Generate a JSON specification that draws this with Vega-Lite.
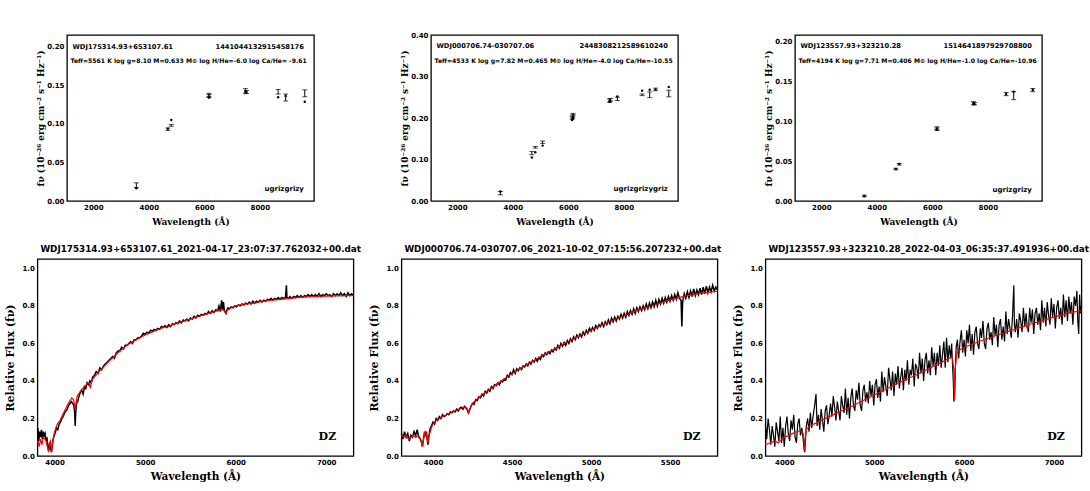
{
  "$schema": "https://vega.github.io/schema/vega-lite/v6.json",
  "background": "white",
  "padding": {"left": 4, "top": 31, "right": 0, "bottom": 0},
  "config": {
    "view": {"stroke": "black", "strokeWidth": 1.3},
    "font": "DejaVu Sans",
    "axis": {
      "domain": false, "grid": false, "ticks": true, "tickSize": 0, "tickColor": "black", "tickWidth": 1,
      "labelFont": "DejaVu Sans", "labelFontWeight": "bold", "labelFontSize": 7, "labelColor": "black",
      "labelPadding": 3, "labelOverlap": false, "labelFlush": false, "labelBound": false,
      "titleFont": "DejaVu Serif", "titleFontWeight": "bold", "titleColor": "black"
    },
    "title": {"font": "DejaVu Sans", "fontWeight": "bold", "fontSize": 8.8, "color": "black", "anchor": "start", "frame": "group", "offset": 5, "dx": 3}
  },
  "datasets": {
    "sed1": [
      {"band": "u", "w": 3551, "obs": 0.0205, "err": 0.003, "mod": 0.0165},
      {"band": "g", "w": 4686, "obs": 0.093, "err": 0.0015, "mod": 0.0935},
      {"band": "g", "w": 4810, "obs": 0.098, "err": 0.0012, "mod": 0.105},
      {"band": "r", "w": 6166, "obs": 0.1375, "err": 0.002, "mod": 0.134},
      {"band": "r", "w": 6170, "obs": 0.136, "err": 0.002, "mod": 0.1345},
      {"band": "i", "w": 7480, "obs": 0.1425, "err": 0.003, "mod": 0.1415},
      {"band": "i", "w": 7520, "obs": 0.141, "err": 0.002, "mod": 0.1415},
      {"band": "z", "w": 8660, "obs": 0.1415, "err": 0.003, "mod": 0.1345},
      {"band": "z", "w": 8932, "obs": 0.134, "err": 0.0045, "mod": 0.136},
      {"band": "y", "w": 9620, "obs": 0.1395, "err": 0.0045, "mod": 0.1285}
    ],
    "sed2": [
      {"band": "u", "w": 3551, "obs": 0.019, "err": 0.004, "mod": 0.023},
      {"band": "g", "w": 4686, "obs": 0.116, "err": 0.004, "mod": 0.105},
      {"band": "g", "w": 4810, "obs": 0.13, "err": 0.002, "mod": 0.118},
      {"band": "g", "w": 5075, "obs": 0.142, "err": 0.003, "mod": 0.134},
      {"band": "r", "w": 6138, "obs": 0.201, "err": 0.003, "mod": 0.196},
      {"band": "r", "w": 6166, "obs": 0.205, "err": 0.004, "mod": 0.199},
      {"band": "r", "w": 6170, "obs": 0.209, "err": 0.003, "mod": 0.203},
      {"band": "i", "w": 7480, "obs": 0.243, "err": 0.004, "mod": 0.24},
      {"band": "i", "w": 7520, "obs": 0.245, "err": 0.003, "mod": 0.241},
      {"band": "i", "w": 7767, "obs": 0.247, "err": 0.004, "mod": 0.253},
      {"band": "z", "w": 8660, "obs": 0.257, "err": 0.002, "mod": 0.267},
      {"band": "z", "w": 8932, "obs": 0.257, "err": 0.007, "mod": 0.269},
      {"band": "z", "w": 9145, "obs": 0.27, "err": 0.003, "mod": 0.27},
      {"band": "y", "w": 9620, "obs": 0.26, "err": 0.008, "mod": 0.276}
    ],
    "sed3": [
      {"band": "u", "w": 3551, "obs": 0.0065, "err": 0.001, "mod": 0.006},
      {"band": "g", "w": 4686, "obs": 0.04, "err": 0.001, "mod": 0.04},
      {"band": "g", "w": 4810, "obs": 0.046, "err": 0.001, "mod": 0.0465},
      {"band": "r", "w": 6166, "obs": 0.091, "err": 0.002, "mod": 0.09},
      {"band": "r", "w": 6170, "obs": 0.09, "err": 0.0015, "mod": 0.0905},
      {"band": "i", "w": 7480, "obs": 0.1225, "err": 0.002, "mod": 0.122},
      {"band": "i", "w": 7520, "obs": 0.122, "err": 0.0015, "mod": 0.1215},
      {"band": "z", "w": 8660, "obs": 0.134, "err": 0.002, "mod": 0.134},
      {"band": "z", "w": 8932, "obs": 0.132, "err": 0.005, "mod": 0.137},
      {"band": "y", "w": 9620, "obs": 0.139, "err": 0.002, "mod": 0.139}
    ],
    "spec1": [
      {"w":3815,"f":0.15},{"w":3825,"f":0.08},{"w":3835,"f":0.13},{"w":3845,"f":0.1},{"w":3855,"f":0.14},{"w":3865,"f":0.09},{"w":3875,"f":0.13},{"w":3885,"f":0.11},{"w":3895,"f":0.12},{"w":3905,"f":0.08},{"w":3915,"f":0.1},{"w":3925,"f":0.05},{"w":3935,"f":0.03},{"w":3945,"f":0.07},{"w":3955,"f":0.04},{"w":3965,"f":0.02},{"w":3975,"f":0.06},{"w":3985,"f":0.09},{"w":3995,"f":0.11},{"w":4005,"f":0.12},
      {"w":4020,"f":0.15},{"w":4035,"f":0.14},{"w":4050,"f":0.17},{"w":4065,"f":0.18},{"w":4080,"f":0.2},{"w":4095,"f":0.21},{"w":4110,"f":0.23},{"w":4125,"f":0.24},{"w":4140,"f":0.25},{"w":4155,"f":0.27},{"w":4170,"f":0.28},{"w":4185,"f":0.29},{"w":4200,"f":0.28},{"w":4212,"f":0.27},{"w":4222,"f":0.23},{"w":4227,"f":0.16},{"w":4232,"f":0.22},{"w":4242,"f":0.28},{"w":4255,"f":0.29},{"w":4270,"f":0.32},
      {"w":4285,"f":0.34},{"w":4300,"f":0.35},{"w":4315,"f":0.33},{"w":4330,"f":0.37},{"w":4345,"f":0.36},{"w":4360,"f":0.39},{"w":4375,"f":0.38},{"w":4390,"f":0.4},{"w":4405,"f":0.39},{"w":4420,"f":0.42},{"w":4440,"f":0.43},{"w":4460,"f":0.45},{"w":4480,"f":0.44},{"w":4500,"f":0.47},{"w":4520,"f":0.46},{"w":4540,"f":0.48},{"w":4560,"f":0.49},{"w":4580,"f":0.5},{"w":4600,"f":0.51},{"w":4620,"f":0.52},
      {"w":4640,"f":0.53},{"w":4660,"f":0.52},{"w":4680,"f":0.55},{"w":4700,"f":0.56},{"w":4720,"f":0.56},{"w":4740,"f":0.58},{"w":4760,"f":0.57},{"w":4780,"f":0.59},{"w":4800,"f":0.59},{"w":4820,"f":0.6},{"w":4840,"f":0.61},{"w":4860,"f":0.6},{"w":4880,"f":0.62},{"w":4900,"f":0.62},{"w":4920,"f":0.63},{"w":4940,"f":0.63},{"w":4960,"f":0.64},{"w":4980,"f":0.655},{"w":5000,"f":0.65},{"w":5020,"f":0.66},
      {"w":5040,"f":0.655},{"w":5060,"f":0.67},{"w":5080,"f":0.665},{"w":5100,"f":0.675},{"w":5120,"f":0.67},{"w":5140,"f":0.68},{"w":5160,"f":0.675},{"w":5180,"f":0.69},{"w":5200,"f":0.685},{"w":5220,"f":0.695},{"w":5240,"f":0.685},{"w":5260,"f":0.7},{"w":5280,"f":0.69},{"w":5300,"f":0.705},{"w":5320,"f":0.7},{"w":5340,"f":0.71},{"w":5360,"f":0.705},{"w":5380,"f":0.72},{"w":5400,"f":0.71},{"w":5420,"f":0.725},
      {"w":5440,"f":0.72},{"w":5460,"f":0.73},{"w":5480,"f":0.72},{"w":5500,"f":0.735},{"w":5520,"f":0.73},{"w":5540,"f":0.745},{"w":5560,"f":0.735},{"w":5580,"f":0.75},{"w":5600,"f":0.745},{"w":5620,"f":0.755},{"w":5640,"f":0.75},{"w":5660,"f":0.76},{"w":5680,"f":0.755},{"w":5700,"f":0.77},{"w":5720,"f":0.76},{"w":5740,"f":0.775},{"w":5760,"f":0.765},{"w":5780,"f":0.78},{"w":5800,"f":0.775},{"w":5815,"f":0.8},
      {"w":5830,"f":0.77},{"w":5845,"f":0.83},{"w":5855,"f":0.78},{"w":5865,"f":0.82},{"w":5875,"f":0.775},{"w":5885,"f":0.765},{"w":5893,"f":0.76},{"w":5900,"f":0.775},{"w":5915,"f":0.79},{"w":5930,"f":0.785},{"w":5950,"f":0.795},{"w":5970,"f":0.79},{"w":5990,"f":0.8},{"w":6010,"f":0.795},{"w":6030,"f":0.805},{"w":6050,"f":0.8},{"w":6070,"f":0.81},{"w":6090,"f":0.805},{"w":6110,"f":0.815},{"w":6130,"f":0.81},
      {"w":6150,"f":0.82},{"w":6170,"f":0.81},{"w":6190,"f":0.825},{"w":6210,"f":0.815},{"w":6230,"f":0.825},{"w":6250,"f":0.82},{"w":6270,"f":0.83},{"w":6290,"f":0.82},{"w":6310,"f":0.83},{"w":6330,"f":0.825},{"w":6350,"f":0.835},{"w":6370,"f":0.83},{"w":6390,"f":0.84},{"w":6410,"f":0.83},{"w":6430,"f":0.84},{"w":6450,"f":0.835},{"w":6470,"f":0.845},{"w":6490,"f":0.835},{"w":6510,"f":0.845},{"w":6530,"f":0.84},
      {"w":6550,"f":0.845},{"w":6560,"f":0.91},{"w":6566,"f":0.845},{"w":6580,"f":0.84},{"w":6600,"f":0.85},{"w":6620,"f":0.84},{"w":6640,"f":0.85},{"w":6660,"f":0.845},{"w":6680,"f":0.855},{"w":6700,"f":0.845},{"w":6720,"f":0.855},{"w":6740,"f":0.845},{"w":6760,"f":0.855},{"w":6780,"f":0.85},{"w":6800,"f":0.86},{"w":6820,"f":0.85},{"w":6840,"f":0.86},{"w":6860,"f":0.85},{"w":6880,"f":0.86},{"w":6900,"f":0.85},
      {"w":6920,"f":0.865},{"w":6940,"f":0.85},{"w":6960,"f":0.86},{"w":6980,"f":0.855},{"w":7000,"f":0.865},{"w":7020,"f":0.855},{"w":7040,"f":0.86},{"w":7060,"f":0.85},{"w":7080,"f":0.865},{"w":7100,"f":0.855},{"w":7120,"f":0.865},{"w":7140,"f":0.855},{"w":7160,"f":0.87},{"w":7180,"f":0.855},{"w":7200,"f":0.865},{"w":7220,"f":0.85},{"w":7240,"f":0.87},{"w":7260,"f":0.855},{"w":7280,"f":0.865},{"w":7300,"f":0.855}
    ],
    "fit1": [
      {"w":3815,"f":0.08},{"w":3830,"f":0.05},{"w":3845,"f":0.09},{"w":3860,"f":0.06},{"w":3875,"f":0.1},{"w":3890,"f":0.09},{"w":3905,"f":0.08},{"w":3920,"f":0.05},{"w":3933,"f":0.02},{"w":3945,"f":0.07},{"w":3955,"f":0.08},{"w":3968,"f":0.02},{"w":3980,"f":0.08},{"w":4000,"f":0.13},{"w":4030,"f":0.17},{"w":4060,"f":0.19},{"w":4100,"f":0.23},{"w":4150,"f":0.28},{"w":4190,"f":0.31},{"w":4210,"f":0.3},
      {"w":4222,"f":0.27},{"w":4227,"f":0.24},{"w":4233,"f":0.27},{"w":4250,"f":0.32},{"w":4300,"f":0.355},{"w":4350,"f":0.38},{"w":4380,"f":0.39},{"w":4395,"f":0.36},{"w":4405,"f":0.39},{"w":4420,"f":0.41},{"w":4500,"f":0.455},{"w":4600,"f":0.505},{"w":4700,"f":0.55},{"w":4800,"f":0.59},{"w":4900,"f":0.62},{"w":5000,"f":0.645},{"w":5100,"f":0.665},{"w":5200,"f":0.685},{"w":5270,"f":0.69},{"w":5300,"f":0.7},
      {"w":5400,"f":0.715},{"w":5500,"f":0.73},{"w":5600,"f":0.745},{"w":5700,"f":0.76},{"w":5800,"f":0.775},{"w":5860,"f":0.78},{"w":5880,"f":0.77},{"w":5893,"f":0.76},{"w":5905,"f":0.775},{"w":5950,"f":0.79},{"w":6000,"f":0.8},{"w":6100,"f":0.81},{"w":6200,"f":0.815},{"w":6300,"f":0.825},{"w":6400,"f":0.83},{"w":6500,"f":0.835},{"w":6600,"f":0.84},{"w":6700,"f":0.845},{"w":6800,"f":0.848},{"w":6900,"f":0.85},
      {"w":7000,"f":0.852},{"w":7100,"f":0.853},{"w":7200,"f":0.854},{"w":7300,"f":0.855}
    ],
    "spec2": [
      {"w":3800,"f":0.12},{"w":3810,"f":0.09},{"w":3820,"f":0.13},{"w":3830,"f":0.1},{"w":3840,"f":0.12},{"w":3850,"f":0.08},{"w":3860,"f":0.11},{"w":3870,"f":0.1},{"w":3880,"f":0.13},{"w":3890,"f":0.11},{"w":3900,"f":0.14},{"w":3910,"f":0.1},{"w":3920,"f":0.09},{"w":3928,"f":0.07},{"w":3933,"f":0.05},{"w":3938,"f":0.08},{"w":3945,"f":0.12},{"w":3952,"f":0.11},{"w":3958,"f":0.13},{"w":3963,"f":0.09},
      {"w":3968,"f":0.06},{"w":3973,"f":0.1},{"w":3980,"f":0.14},{"w":3990,"f":0.16},{"w":4000,"f":0.18},{"w":4010,"f":0.17},{"w":4020,"f":0.2},{"w":4030,"f":0.19},{"w":4040,"f":0.21},{"w":4050,"f":0.2},{"w":4060,"f":0.22},{"w":4070,"f":0.21},{"w":4080,"f":0.215},{"w":4090,"f":0.225},{"w":4100,"f":0.22},{"w":4110,"f":0.235},{"w":4120,"f":0.23},{"w":4130,"f":0.24},{"w":4140,"f":0.235},{"w":4150,"f":0.25},
      {"w":4160,"f":0.24},{"w":4170,"f":0.255},{"w":4180,"f":0.26},{"w":4190,"f":0.25},{"w":4200,"f":0.265},{"w":4210,"f":0.255},{"w":4218,"f":0.245},{"w":4224,"f":0.23},{"w":4230,"f":0.24},{"w":4240,"f":0.265},{"w":4250,"f":0.28},{"w":4260,"f":0.275},{"w":4270,"f":0.3},{"w":4280,"f":0.295},{"w":4290,"f":0.315},{"w":4300,"f":0.31},{"w":4310,"f":0.33},{"w":4320,"f":0.32},{"w":4330,"f":0.345},{"w":4340,"f":0.335},
      {"w":4350,"f":0.355},{"w":4360,"f":0.345},{"w":4370,"f":0.37},{"w":4380,"f":0.36},{"w":4390,"f":0.38},{"w":4400,"f":0.375},{"w":4410,"f":0.39},{"w":4420,"f":0.38},{"w":4430,"f":0.4},{"w":4440,"f":0.395},{"w":4450,"f":0.41},{"w":4460,"f":0.405},{"w":4470,"f":0.43},{"w":4480,"f":0.42},{"w":4490,"f":0.445},{"w":4500,"f":0.435},{"w":4510,"f":0.46},{"w":4520,"f":0.44},{"w":4530,"f":0.465},{"w":4540,"f":0.455},
      {"w":4550,"f":0.47},{"w":4560,"f":0.46},{"w":4570,"f":0.48},{"w":4580,"f":0.475},{"w":4590,"f":0.49},{"w":4600,"f":0.48},{"w":4610,"f":0.5},{"w":4620,"f":0.49},{"w":4630,"f":0.51},{"w":4640,"f":0.5},{"w":4650,"f":0.52},{"w":4660,"f":0.505},{"w":4670,"f":0.525},{"w":4680,"f":0.515},{"w":4690,"f":0.54},{"w":4700,"f":0.53},{"w":4710,"f":0.55},{"w":4720,"f":0.54},{"w":4730,"f":0.555},{"w":4740,"f":0.545},
      {"w":4750,"f":0.565},{"w":4760,"f":0.555},{"w":4770,"f":0.575},{"w":4780,"f":0.565},{"w":4790,"f":0.59},{"w":4800,"f":0.575},{"w":4810,"f":0.6},{"w":4820,"f":0.585},{"w":4830,"f":0.605},{"w":4840,"f":0.59},{"w":4850,"f":0.615},{"w":4860,"f":0.6},{"w":4870,"f":0.625},{"w":4880,"f":0.61},{"w":4890,"f":0.635},{"w":4900,"f":0.62},{"w":4910,"f":0.645},{"w":4920,"f":0.63},{"w":4930,"f":0.65},{"w":4940,"f":0.635},
      {"w":4950,"f":0.66},{"w":4960,"f":0.645},{"w":4970,"f":0.67},{"w":4980,"f":0.655},{"w":4990,"f":0.68},{"w":5000,"f":0.665},{"w":5010,"f":0.685},{"w":5020,"f":0.67},{"w":5030,"f":0.695},{"w":5040,"f":0.68},{"w":5050,"f":0.7},{"w":5060,"f":0.69},{"w":5070,"f":0.71},{"w":5080,"f":0.69},{"w":5090,"f":0.715},{"w":5100,"f":0.7},{"w":5110,"f":0.725},{"w":5120,"f":0.705},{"w":5130,"f":0.735},{"w":5140,"f":0.715},
      {"w":5150,"f":0.74},{"w":5160,"f":0.72},{"w":5170,"f":0.745},{"w":5180,"f":0.73},{"w":5190,"f":0.755},{"w":5200,"f":0.735},{"w":5210,"f":0.76},{"w":5220,"f":0.74},{"w":5230,"f":0.77},{"w":5240,"f":0.75},{"w":5250,"f":0.775},{"w":5260,"f":0.755},{"w":5270,"f":0.785},{"w":5280,"f":0.76},{"w":5290,"f":0.79},{"w":5300,"f":0.77},{"w":5310,"f":0.795},{"w":5320,"f":0.775},{"w":5330,"f":0.8},{"w":5340,"f":0.78},
      {"w":5350,"f":0.81},{"w":5360,"f":0.785},{"w":5370,"f":0.815},{"w":5380,"f":0.79},{"w":5390,"f":0.82},{"w":5400,"f":0.795},{"w":5410,"f":0.83},{"w":5420,"f":0.8},{"w":5430,"f":0.835},{"w":5440,"f":0.81},{"w":5450,"f":0.84},{"w":5460,"f":0.815},{"w":5470,"f":0.845},{"w":5480,"f":0.82},{"w":5490,"f":0.85},{"w":5500,"f":0.825},{"w":5510,"f":0.855},{"w":5520,"f":0.83},{"w":5530,"f":0.86},{"w":5540,"f":0.835},
      {"w":5550,"f":0.87},{"w":5560,"f":0.84},{"w":5570,"f":0.83},{"w":5575,"f":0.69},{"w":5580,"f":0.82},{"w":5590,"f":0.865},{"w":5600,"f":0.84},{"w":5610,"f":0.875},{"w":5620,"f":0.845},{"w":5630,"f":0.88},{"w":5640,"f":0.85},{"w":5650,"f":0.89},{"w":5660,"f":0.855},{"w":5670,"f":0.885},{"w":5680,"f":0.86},{"w":5690,"f":0.895},{"w":5700,"f":0.86},{"w":5710,"f":0.9},{"w":5720,"f":0.865},{"w":5730,"f":0.905},
      {"w":5740,"f":0.87},{"w":5750,"f":0.9},{"w":5760,"f":0.875},{"w":5770,"f":0.91},{"w":5780,"f":0.88},{"w":5790,"f":0.9},{"w":5800,"f":0.885}
    ],
    "fit2": [
      {"w":3800,"f":0.11},{"w":3815,"f":0.1},{"w":3830,"f":0.11},{"w":3845,"f":0.09},{"w":3860,"f":0.1},{"w":3875,"f":0.11},{"w":3890,"f":0.1},{"w":3905,"f":0.11},{"w":3915,"f":0.1},{"w":3925,"f":0.08},{"w":3933,"f":0.05},{"w":3940,"f":0.09},{"w":3950,"f":0.13},{"w":3958,"f":0.12},{"w":3963,"f":0.09},{"w":3968,"f":0.07},{"w":3975,"f":0.11},{"w":3990,"f":0.15},{"w":4000,"f":0.17},{"w":4020,"f":0.19},
      {"w":4050,"f":0.205},{"w":4100,"f":0.225},{"w":4150,"f":0.245},{"w":4200,"f":0.262},{"w":4212,"f":0.258},{"w":4220,"f":0.245},{"w":4226,"f":0.23},{"w":4232,"f":0.25},{"w":4250,"f":0.28},{"w":4275,"f":0.3},{"w":4300,"f":0.32},{"w":4350,"f":0.35},{"w":4400,"f":0.38},{"w":4450,"f":0.41},{"w":4500,"f":0.44},{"w":4600,"f":0.49},{"w":4700,"f":0.54},{"w":4800,"f":0.585},{"w":4900,"f":0.63},{"w":5000,"f":0.67},
      {"w":5100,"f":0.71},{"w":5200,"f":0.745},{"w":5300,"f":0.78},{"w":5400,"f":0.805},{"w":5500,"f":0.832},{"w":5600,"f":0.853},{"w":5700,"f":0.868},{"w":5800,"f":0.878}
    ],
    "spec3": [
      {"w":3790,"f":0.17},{"w":3805,"f":0.09},{"w":3820,"f":0.2},{"w":3835,"f":0.14},{"w":3850,"f":0.06},{"w":3865,"f":0.16},{"w":3880,"f":0.11},{"w":3895,"f":0.05},{"w":3910,"f":0.18},{"w":3925,"f":0.13},{"w":3940,"f":0.08},{"w":3955,"f":0.21},{"w":3970,"f":0.07},{"w":3985,"f":0.15},{"w":4000,"f":0.05},{"w":4015,"f":0.16},{"w":4030,"f":0.21},{"w":4045,"f":0.12},{"w":4060,"f":0.08},{"w":4075,"f":0.19},
      {"w":4090,"f":0.14},{"w":4105,"f":0.22},{"w":4120,"f":0.1},{"w":4135,"f":0.07},{"w":4150,"f":0.17},{"w":4165,"f":0.2},{"w":4180,"f":0.11},{"w":4195,"f":0.15},{"w":4208,"f":0.1},{"w":4216,"f":0.06},{"w":4222,"f":0.03},{"w":4228,"f":0.02},{"w":4234,"f":0.07},{"w":4245,"f":0.16},{"w":4260,"f":0.2},{"w":4275,"f":0.13},{"w":4290,"f":0.23},{"w":4305,"f":0.15},{"w":4320,"f":0.21},{"w":4335,"f":0.26},
      {"w":4353,"f":0.33},{"w":4365,"f":0.16},{"w":4380,"f":0.22},{"w":4395,"f":0.14},{"w":4410,"f":0.25},{"w":4425,"f":0.19},{"w":4440,"f":0.13},{"w":4455,"f":0.24},{"w":4470,"f":0.27},{"w":4485,"f":0.17},{"w":4500,"f":0.22},{"w":4515,"f":0.28},{"w":4530,"f":0.21},{"w":4545,"f":0.32},{"w":4560,"f":0.26},{"w":4575,"f":0.19},{"w":4590,"f":0.29},{"w":4605,"f":0.24},{"w":4620,"f":0.19},{"w":4635,"f":0.32},
      {"w":4650,"f":0.27},{"w":4665,"f":0.23},{"w":4680,"f":0.36},{"w":4695,"f":0.22},{"w":4710,"f":0.31},{"w":4725,"f":0.2},{"w":4740,"f":0.31},{"w":4755,"f":0.36},{"w":4770,"f":0.27},{"w":4785,"f":0.24},{"w":4800,"f":0.35},{"w":4815,"f":0.3},{"w":4830,"f":0.39},{"w":4845,"f":0.27},{"w":4860,"f":0.24},{"w":4875,"f":0.35},{"w":4890,"f":0.38},{"w":4905,"f":0.29},{"w":4920,"f":0.34},{"w":4935,"f":0.28},
      {"w":4950,"f":0.4},{"w":4965,"f":0.32},{"w":4980,"f":0.38},{"w":4995,"f":0.27},{"w":5010,"f":0.38},{"w":5025,"f":0.41},{"w":5040,"f":0.31},{"w":5055,"f":0.37},{"w":5070,"f":0.29},{"w":5085,"f":0.45},{"w":5100,"f":0.34},{"w":5115,"f":0.42},{"w":5130,"f":0.37},{"w":5145,"f":0.32},{"w":5160,"f":0.47},{"w":5175,"f":0.41},{"w":5190,"f":0.35},{"w":5205,"f":0.45},{"w":5220,"f":0.32},{"w":5235,"f":0.44},
      {"w":5250,"f":0.38},{"w":5265,"f":0.48},{"w":5280,"f":0.36},{"w":5295,"f":0.42},{"w":5310,"f":0.47},{"w":5325,"f":0.35},{"w":5340,"f":0.46},{"w":5355,"f":0.4},{"w":5370,"f":0.51},{"w":5385,"f":0.38},{"w":5400,"f":0.46},{"w":5415,"f":0.43},{"w":5430,"f":0.52},{"w":5445,"f":0.37},{"w":5460,"f":0.49},{"w":5475,"f":0.47},{"w":5490,"f":0.41},{"w":5505,"f":0.55},{"w":5520,"f":0.44},{"w":5535,"f":0.52},
      {"w":5550,"f":0.4},{"w":5565,"f":0.51},{"w":5580,"f":0.55},{"w":5595,"f":0.44},{"w":5610,"f":0.51},{"w":5625,"f":0.43},{"w":5640,"f":0.58},{"w":5655,"f":0.48},{"w":5670,"f":0.55},{"w":5685,"f":0.43},{"w":5700,"f":0.55},{"w":5715,"f":0.48},{"w":5730,"f":0.59},{"w":5745,"f":0.47},{"w":5760,"f":0.54},{"w":5775,"f":0.61},{"w":5790,"f":0.47},{"w":5805,"f":0.63},{"w":5820,"f":0.5},{"w":5835,"f":0.59},
      {"w":5850,"f":0.52},{"w":5862,"f":0.6},{"w":5872,"f":0.48},{"w":5880,"f":0.4},{"w":5887,"f":0.29},{"w":5894,"f":0.31},{"w":5902,"f":0.45},{"w":5912,"f":0.58},{"w":5925,"f":0.62},{"w":5940,"f":0.52},{"w":5955,"f":0.61},{"w":5970,"f":0.67},{"w":5985,"f":0.55},{"w":6000,"f":0.62},{"w":6015,"f":0.53},{"w":6030,"f":0.67},{"w":6045,"f":0.6},{"w":6060,"f":0.7},{"w":6075,"f":0.56},{"w":6090,"f":0.65},
      {"w":6105,"f":0.54},{"w":6120,"f":0.66},{"w":6135,"f":0.69},{"w":6150,"f":0.6},{"w":6165,"f":0.57},{"w":6180,"f":0.68},{"w":6195,"f":0.63},{"w":6210,"f":0.72},{"w":6225,"f":0.6},{"w":6240,"f":0.57},{"w":6255,"f":0.68},{"w":6270,"f":0.71},{"w":6285,"f":0.62},{"w":6300,"f":0.66},{"w":6315,"f":0.59},{"w":6330,"f":0.74},{"w":6345,"f":0.64},{"w":6360,"f":0.7},{"w":6375,"f":0.58},{"w":6390,"f":0.7},
      {"w":6405,"f":0.73},{"w":6420,"f":0.62},{"w":6435,"f":0.69},{"w":6450,"f":0.61},{"w":6465,"f":0.77},{"w":6480,"f":0.65},{"w":6495,"f":0.73},{"w":6510,"f":0.68},{"w":6525,"f":0.63},{"w":6540,"f":0.76},{"w":6553,"f":0.91},{"w":6560,"f":0.7},{"w":6570,"f":0.66},{"w":6585,"f":0.73},{"w":6600,"f":0.63},{"w":6615,"f":0.76},{"w":6630,"f":0.72},{"w":6645,"f":0.66},{"w":6660,"f":0.79},{"w":6675,"f":0.69},
      {"w":6690,"f":0.76},{"w":6700,"f":0.7},{"w":6715,"f":0.66},{"w":6730,"f":0.79},{"w":6745,"f":0.71},{"w":6760,"f":0.78},{"w":6775,"f":0.65},{"w":6790,"f":0.76},{"w":6805,"f":0.79},{"w":6820,"f":0.7},{"w":6835,"f":0.76},{"w":6850,"f":0.67},{"w":6865,"f":0.83},{"w":6880,"f":0.71},{"w":6895,"f":0.79},{"w":6910,"f":0.69},{"w":6925,"f":0.82},{"w":6940,"f":0.75},{"w":6955,"f":0.7},{"w":6970,"f":0.84},
      {"w":6985,"f":0.74},{"w":7000,"f":0.81},{"w":7015,"f":0.68},{"w":7030,"f":0.79},{"w":7045,"f":0.83},{"w":7060,"f":0.73},{"w":7075,"f":0.79},{"w":7090,"f":0.7},{"w":7105,"f":0.86},{"w":7120,"f":0.74},{"w":7135,"f":0.83},{"w":7150,"f":0.72},{"w":7165,"f":0.85},{"w":7180,"f":0.76},{"w":7195,"f":0.82},{"w":7210,"f":0.7},{"w":7225,"f":0.85},{"w":7240,"f":0.8},{"w":7255,"f":0.88},{"w":7265,"f":0.72},
      {"w":7275,"f":0.65},{"w":7285,"f":0.86},{"w":7295,"f":0.76},{"w":7300,"f":0.8}
    ],
    "fit3": [
      {"w":3790,"f":0.06},{"w":3850,"f":0.072},{"w":3900,"f":0.08},{"w":3930,"f":0.07},{"w":3945,"f":0.078},{"w":4000,"f":0.1},{"w":4050,"f":0.11},{"w":4100,"f":0.122},{"w":4150,"f":0.132},{"w":4190,"f":0.133},{"w":4210,"f":0.12},{"w":4220,"f":0.08},{"w":4226,"f":0.03},{"w":4232,"f":0.09},{"w":4245,"f":0.14},{"w":4280,"f":0.16},{"w":4350,"f":0.175},{"w":4500,"f":0.21},{"w":4750,"f":0.265},{"w":5000,"f":0.325},
      {"w":5250,"f":0.385},{"w":5500,"f":0.44},{"w":5750,"f":0.5},{"w":5850,"f":0.525},{"w":5870,"f":0.525},{"w":5885,"f":0.46},{"w":5893,"f":0.3},{"w":5902,"f":0.47},{"w":5920,"f":0.55},{"w":5950,"f":0.565},{"w":6000,"f":0.58},{"w":6250,"f":0.625},{"w":6500,"f":0.665},{"w":6690,"f":0.695},{"w":6705,"f":0.68},{"w":6715,"f":0.7},{"w":6750,"f":0.705},{"w":7000,"f":0.74},{"w":7150,"f":0.76},{"w":7300,"f":0.775}
    ]
  },
  "spacing": 17,
  "center": true,
  "vconcat": [
    {
      "bounds": "flush",
      "spacing": 117,
      "hconcat": [
        {
          "width": 247, "height": 166,
          "data": {"name": "sed1"},
          "layer": [
            {"mark": {"type": "errorbar", "color": "black", "ticks": {"size": 5, "color": "black"}},
             "encoding": {
               "x": {"field": "w", "type": "quantitative", "scale": {"domain": [1050, 9950], "nice": false, "zero": false}, "axis": null},
               "y": {"field": "obs", "type": "quantitative", "scale": {"domain": [0, 0.215], "nice": false, "zero": false}, "axis": null},
               "yError": {"field": "err"}}},
            {"mark": {"type": "point", "filled": true, "color": "black", "size": 6, "opacity": 1},
             "encoding": {
               "x": {"field": "w", "type": "quantitative", "axis": {"orient": "bottom", "values": [1500,2000,2500,3000,3500,4000,4500,5000,5500,6000,6500,7000,7500,8000,8500,9000,9500], "format": "d", "labelExpr": "datum.value % 2000 === 0 ? datum.label : ''", "labelPadding": 2, "title": "Wavelength (Å)", "titleFontSize": 9, "titlePadding": 7, "encode": {"ticks": {"y2": {"value": {"expr": "datum.value % 2000 === 0 ? -5 : -2.5"}}}}}},
               "y": {"field": "mod", "type": "quantitative", "axis": {"orient": "left", "values": [0,0.01,0.02,0.03,0.04,0.05,0.06,0.07,0.08,0.09,0.1,0.11,0.12,0.13,0.14,0.15,0.16,0.17,0.18,0.19,0.2,0.21], "format": ".2f", "labelExpr": "abs(datum.value*20-round(datum.value*20)) < 0.001 ? datum.label : ''", "title": "fν (10⁻²⁶ erg cm⁻² s⁻¹ Hz⁻¹)", "titleFontSize": 9, "titlePadding": 1, "encode": {"ticks": {"x2": {"value": {"expr": "abs(datum.value*20-round(datum.value*20)) < 0.001 ? 5 : 2.5"}}}}}}}},
            {"data": {"values": [{"label": "WDJ175314.93+653107.61"}]},
             "mark": {"type": "text", "align": "left", "baseline": "middle", "fontSize": 6.7, "fontWeight": "bold", "color": "black"},
             "encoding": {
               "x": {"datum": 1250, "type": "quantitative", "axis": {"orient": "top", "values": [1500,2000,2500,3000,3500,4000,4500,5000,5500,6000,6500,7000,7500,8000,8500,9000,9500], "labels": false, "title": null, "encode": {"ticks": {"y2": {"value": {"expr": "datum.value % 2000 === 0 ? 5 : 2.5"}}}}}},
               "y": {"datum": 0.2, "type": "quantitative", "axis": {"orient": "right", "values": [0,0.01,0.02,0.03,0.04,0.05,0.06,0.07,0.08,0.09,0.1,0.11,0.12,0.13,0.14,0.15,0.16,0.17,0.18,0.19,0.2,0.21], "labels": false, "title": null, "encode": {"ticks": {"x2": {"value": {"expr": "abs(datum.value*20-round(datum.value*20)) < 0.001 ? -5 : -2.5"}}}}}},
               "text": {"field": "label"}}},
            {"data": {"values": [{"label": "1441044132915458176"}]},
             "mark": {"type": "text", "align": "right", "baseline": "middle", "fontSize": 6.7, "fontWeight": "bold", "color": "black"},
             "encoding": {"x": {"datum": 9590, "type": "quantitative", "axis": null}, "y": {"datum": 0.2, "type": "quantitative", "axis": null}, "text": {"field": "label"}}},
            {"data": {"values": [{"label": "Teff=5561 K log g=8.10 M=0.633 M⊙ log H/He=-6.0 log Ca/He= -9.61"}]},
             "mark": {"type": "text", "align": "left", "baseline": "middle", "fontSize": 6.1, "fontWeight": "bold", "color": "black"},
             "encoding": {"x": {"datum": 1180, "type": "quantitative", "axis": null}, "y": {"datum": 0.1814, "type": "quantitative", "axis": null}, "text": {"field": "label"}}},
            {"data": {"values": [{"label": "ugrizgrizy"}]},
             "mark": {"type": "text", "align": "right", "baseline": "middle", "fontSize": 7, "fontWeight": "bold", "color": "black"},
             "encoding": {"x": {"datum": 9590, "type": "quantitative", "axis": null}, "y": {"datum": 0.0156, "type": "quantitative", "axis": null}, "text": {"field": "label"}}}
          ],
          "resolve": {"axis": {"x": "independent", "y": "independent"}}
        },
        {
          "width": 247, "height": 166,
          "data": {"name": "sed2"},
          "layer": [
            {"mark": {"type": "errorbar", "color": "black", "ticks": {"size": 5, "color": "black"}},
             "encoding": {
               "x": {"field": "w", "type": "quantitative", "scale": {"domain": [1050, 9950], "nice": false, "zero": false}, "axis": null},
               "y": {"field": "obs", "type": "quantitative", "scale": {"domain": [0, 0.4016], "nice": false, "zero": false}, "axis": null},
               "yError": {"field": "err"}}},
            {"mark": {"type": "point", "filled": true, "color": "black", "size": 6, "opacity": 1},
             "encoding": {
               "x": {"field": "w", "type": "quantitative", "axis": {"orient": "bottom", "values": [1500,2000,2500,3000,3500,4000,4500,5000,5500,6000,6500,7000,7500,8000,8500,9000,9500], "format": "d", "labelExpr": "datum.value % 2000 === 0 ? datum.label : ''", "labelPadding": 2, "title": "Wavelength (Å)", "titleFontSize": 9, "titlePadding": 7, "encode": {"ticks": {"y2": {"value": {"expr": "datum.value % 2000 === 0 ? -5 : -2.5"}}}}}},
               "y": {"field": "mod", "type": "quantitative", "axis": {"orient": "left", "values": [0,0.02,0.04,0.06,0.08,0.1,0.12,0.14,0.16,0.18,0.2,0.22,0.24,0.26,0.28,0.3,0.32,0.34,0.36,0.38,0.4], "format": ".2f", "labelExpr": "abs(datum.value*10-round(datum.value*10)) < 0.001 ? datum.label : ''", "title": "fν (10⁻²⁶ erg cm⁻² s⁻¹ Hz⁻¹)", "titleFontSize": 9, "titlePadding": 1, "encode": {"ticks": {"x2": {"value": {"expr": "abs(datum.value*10-round(datum.value*10)) < 0.001 ? 5 : 2.5"}}}}}}}},
            {"data": {"values": [{"label": "WDJ000706.74-030707.06"}]},
             "mark": {"type": "text", "align": "left", "baseline": "middle", "fontSize": 6.7, "fontWeight": "bold", "color": "black"},
             "encoding": {
               "x": {"datum": 1250, "type": "quantitative", "axis": {"orient": "top", "values": [1500,2000,2500,3000,3500,4000,4500,5000,5500,6000,6500,7000,7500,8000,8500,9000,9500], "labels": false, "title": null, "encode": {"ticks": {"y2": {"value": {"expr": "datum.value % 2000 === 0 ? 5 : 2.5"}}}}}},
               "y": {"datum": 0.375, "type": "quantitative", "axis": {"orient": "right", "values": [0,0.02,0.04,0.06,0.08,0.1,0.12,0.14,0.16,0.18,0.2,0.22,0.24,0.26,0.28,0.3,0.32,0.34,0.36,0.38,0.4], "labels": false, "title": null, "encode": {"ticks": {"x2": {"value": {"expr": "abs(datum.value*10-round(datum.value*10)) < 0.001 ? -5 : -2.5"}}}}}},
               "text": {"field": "label"}}},
            {"data": {"values": [{"label": "2448308212589610240"}]},
             "mark": {"type": "text", "align": "right", "baseline": "middle", "fontSize": 6.7, "fontWeight": "bold", "color": "black"},
             "encoding": {"x": {"datum": 9590, "type": "quantitative", "axis": null}, "y": {"datum": 0.375, "type": "quantitative", "axis": null}, "text": {"field": "label"}}},
            {"data": {"values": [{"label": "Teff=4533 K log g=7.82 M=0.465 M⊙ log H/He=-4.0 log Ca/He=-10.55"}]},
             "mark": {"type": "text", "align": "left", "baseline": "middle", "fontSize": 6.1, "fontWeight": "bold", "color": "black"},
             "encoding": {"x": {"datum": 1180, "type": "quantitative", "axis": null}, "y": {"datum": 0.338, "type": "quantitative", "axis": null}, "text": {"field": "label"}}},
            {"data": {"values": [{"label": "ugrizgrizygriz"}]},
             "mark": {"type": "text", "align": "right", "baseline": "middle", "fontSize": 7, "fontWeight": "bold", "color": "black"},
             "encoding": {"x": {"datum": 9590, "type": "quantitative", "axis": null}, "y": {"datum": 0.029, "type": "quantitative", "axis": null}, "text": {"field": "label"}}}
          ],
          "resolve": {"axis": {"x": "independent", "y": "independent"}}
        },
        {
          "width": 247, "height": 166,
          "data": {"name": "sed3"},
          "layer": [
            {"mark": {"type": "errorbar", "color": "black", "ticks": {"size": 5, "color": "black"}},
             "encoding": {
               "x": {"field": "w", "type": "quantitative", "scale": {"domain": [1050, 9950], "nice": false, "zero": false}, "axis": null},
               "y": {"field": "obs", "type": "quantitative", "scale": {"domain": [0, 0.208], "nice": false, "zero": false}, "axis": null},
               "yError": {"field": "err"}}},
            {"mark": {"type": "point", "filled": true, "color": "black", "size": 6, "opacity": 1},
             "encoding": {
               "x": {"field": "w", "type": "quantitative", "axis": {"orient": "bottom", "values": [1500,2000,2500,3000,3500,4000,4500,5000,5500,6000,6500,7000,7500,8000,8500,9000,9500], "format": "d", "labelExpr": "datum.value % 2000 === 0 ? datum.label : ''", "labelPadding": 2, "title": "Wavelength (Å)", "titleFontSize": 9, "titlePadding": 7, "encode": {"ticks": {"y2": {"value": {"expr": "datum.value % 2000 === 0 ? -5 : -2.5"}}}}}},
               "y": {"field": "mod", "type": "quantitative", "axis": {"orient": "left", "values": [0,0.01,0.02,0.03,0.04,0.05,0.06,0.07,0.08,0.09,0.1,0.11,0.12,0.13,0.14,0.15,0.16,0.17,0.18,0.19,0.2], "format": ".2f", "labelExpr": "abs(datum.value*20-round(datum.value*20)) < 0.001 ? datum.label : ''", "title": "fν (10⁻²⁶ erg cm⁻² s⁻¹ Hz⁻¹)", "titleFontSize": 9, "titlePadding": 1, "encode": {"ticks": {"x2": {"value": {"expr": "abs(datum.value*20-round(datum.value*20)) < 0.001 ? 5 : 2.5"}}}}}}}},
            {"data": {"values": [{"label": "WDJ123557.93+323210.28"}]},
             "mark": {"type": "text", "align": "left", "baseline": "middle", "fontSize": 6.7, "fontWeight": "bold", "color": "black"},
             "encoding": {
               "x": {"datum": 1250, "type": "quantitative", "axis": {"orient": "top", "values": [1500,2000,2500,3000,3500,4000,4500,5000,5500,6000,6500,7000,7500,8000,8500,9000,9500], "labels": false, "title": null, "encode": {"ticks": {"y2": {"value": {"expr": "datum.value % 2000 === 0 ? 5 : 2.5"}}}}}},
               "y": {"datum": 0.1937, "type": "quantitative", "axis": {"orient": "right", "values": [0,0.01,0.02,0.03,0.04,0.05,0.06,0.07,0.08,0.09,0.1,0.11,0.12,0.13,0.14,0.15,0.16,0.17,0.18,0.19,0.2], "labels": false, "title": " ", "titleFontSize": 14, "titlePadding": 3, "encode": {"ticks": {"x2": {"value": {"expr": "abs(datum.value*20-round(datum.value*20)) < 0.001 ? -5 : -2.5"}}}}}},
               "text": {"field": "label"}}},
            {"data": {"values": [{"label": "1514641897929708800"}]},
             "mark": {"type": "text", "align": "right", "baseline": "middle", "fontSize": 6.7, "fontWeight": "bold", "color": "black"},
             "encoding": {"x": {"datum": 9590, "type": "quantitative", "axis": null}, "y": {"datum": 0.1937, "type": "quantitative", "axis": null}, "text": {"field": "label"}}},
            {"data": {"values": [{"label": "Teff=4194 K log g=7.71 M=0.406 M⊙ log H/He=-1.0 log Ca/He=-10.96"}]},
             "mark": {"type": "text", "align": "left", "baseline": "middle", "fontSize": 6.1, "fontWeight": "bold", "color": "black"},
             "encoding": {"x": {"datum": 1180, "type": "quantitative", "axis": null}, "y": {"datum": 0.175, "type": "quantitative", "axis": null}, "text": {"field": "label"}}},
            {"data": {"values": [{"label": "ugrizgrizy"}]},
             "mark": {"type": "text", "align": "right", "baseline": "middle", "fontSize": 7, "fontWeight": "bold", "color": "black"},
             "encoding": {"x": {"datum": 9590, "type": "quantitative", "axis": null}, "y": {"datum": 0.0143, "type": "quantitative", "axis": null}, "text": {"field": "label"}}}
          ],
          "resolve": {"axis": {"x": "independent", "y": "independent"}}
        }
      ]
    },
    {
      "bounds": "flush",
      "spacing": 48,
      "hconcat": [
        {
          "width": 316, "height": 197,
          "title": {"text": "WDJ175314.93+653107.61_2021-04-17_23:07:37.762032+00.dat"},
          "layer": [
            {"data": {"name": "spec1"},
             "mark": {"type": "line", "color": "black", "strokeWidth": 1.5},
             "encoding": {
               "x": {"field": "w", "type": "quantitative", "scale": {"domain": [3810, 7300], "nice": false, "zero": false}, "axis": {"orient": "bottom", "values": [4000,4200,4400,4600,4800,5000,5200,5400,5600,5800,6000,6200,6400,6600,6800,7000,7200], "format": "d", "labelExpr": "datum.value % 1000 === 0 ? datum.label : ''", "labelPadding": 2, "title": "Wavelength (Å)", "titleFontSize": 10.5, "titlePadding": 6, "encode": {"ticks": {"y2": {"value": {"expr": "datum.value % 1000 === 0 ? -6 : -3"}}}}}},
               "y": {"field": "f", "type": "quantitative", "scale": {"domain": [0, 1.05], "nice": false, "zero": false}, "axis": {"orient": "left", "values": [0,0.05,0.1,0.15,0.2,0.25,0.3,0.35,0.4,0.45,0.5,0.55,0.6,0.65,0.7,0.75,0.8,0.85,0.9,0.95,1], "format": ".1f", "labelExpr": "abs(datum.value*5-round(datum.value*5)) < 0.001 ? datum.label : ''", "title": "Relative Flux (fν)", "titleFontSize": 11, "titlePadding": 6, "encode": {"ticks": {"x2": {"value": {"expr": "abs(datum.value*5-round(datum.value*5)) < 0.001 ? 6 : 3"}}}}}}}},
            {"data": {"name": "fit1"},
             "mark": {"type": "line", "color": "#ff0000", "strokeWidth": 1.2},
             "encoding": {
               "x": {"field": "w", "type": "quantitative", "axis": {"orient": "top", "values": [4000,4200,4400,4600,4800,5000,5200,5400,5600,5800,6000,6200,6400,6600,6800,7000,7200], "labels": false, "title": null, "encode": {"ticks": {"y2": {"value": {"expr": "datum.value % 1000 === 0 ? 6 : 3"}}}}}},
               "y": {"field": "f", "type": "quantitative", "axis": {"orient": "right", "values": [0,0.05,0.1,0.15,0.2,0.25,0.3,0.35,0.4,0.45,0.5,0.55,0.6,0.65,0.7,0.75,0.8,0.85,0.9,0.95,1], "labels": false, "title": null, "encode": {"ticks": {"x2": {"value": {"expr": "abs(datum.value*5-round(datum.value*5)) < 0.001 ? -6 : -3"}}}}}}}},
            {"data": {"values": [{"label": "DZ"}]},
             "mark": {"type": "text", "align": "right", "baseline": "middle", "font": "DejaVu Serif", "fontSize": 11, "fontWeight": "bold", "color": "black"},
             "encoding": {"x": {"datum": 7110, "type": "quantitative", "axis": null}, "y": {"datum": 0.1, "type": "quantitative", "axis": null}, "text": {"field": "label"}}}
          ],
          "resolve": {"axis": {"x": "independent", "y": "independent"}}
        },
        {
          "width": 316, "height": 197,
          "title": {"text": "WDJ000706.74-030707.06_2021-10-02_07:15:56.207232+00.dat"},
          "layer": [
            {"data": {"name": "spec2"},
             "mark": {"type": "line", "color": "black", "strokeWidth": 1.5},
             "encoding": {
               "x": {"field": "w", "type": "quantitative", "scale": {"domain": [3800, 5800], "nice": false, "zero": false}, "axis": {"orient": "bottom", "values": [3900,4000,4100,4200,4300,4400,4500,4600,4700,4800,4900,5000,5100,5200,5300,5400,5500,5600,5700], "format": "d", "labelExpr": "datum.value % 500 === 0 ? datum.label : ''", "labelPadding": 2, "title": "Wavelength (Å)", "titleFontSize": 10.5, "titlePadding": 6, "encode": {"ticks": {"y2": {"value": {"expr": "datum.value % 500 === 0 ? -6 : -3"}}}}}},
               "y": {"field": "f", "type": "quantitative", "scale": {"domain": [0, 1.05], "nice": false, "zero": false}, "axis": {"orient": "left", "values": [0,0.05,0.1,0.15,0.2,0.25,0.3,0.35,0.4,0.45,0.5,0.55,0.6,0.65,0.7,0.75,0.8,0.85,0.9,0.95,1], "format": ".1f", "labelExpr": "abs(datum.value*5-round(datum.value*5)) < 0.001 ? datum.label : ''", "title": "Relative Flux (fν)", "titleFontSize": 11, "titlePadding": 6, "encode": {"ticks": {"x2": {"value": {"expr": "abs(datum.value*5-round(datum.value*5)) < 0.001 ? 6 : 3"}}}}}}}},
            {"data": {"name": "fit2"},
             "mark": {"type": "line", "color": "#ff0000", "strokeWidth": 1.2},
             "encoding": {
               "x": {"field": "w", "type": "quantitative", "axis": {"orient": "top", "values": [3900,4000,4100,4200,4300,4400,4500,4600,4700,4800,4900,5000,5100,5200,5300,5400,5500,5600,5700], "labels": false, "title": null, "encode": {"ticks": {"y2": {"value": {"expr": "datum.value % 500 === 0 ? 6 : 3"}}}}}},
               "y": {"field": "f", "type": "quantitative", "axis": {"orient": "right", "values": [0,0.05,0.1,0.15,0.2,0.25,0.3,0.35,0.4,0.45,0.5,0.55,0.6,0.65,0.7,0.75,0.8,0.85,0.9,0.95,1], "labels": false, "title": null, "encode": {"ticks": {"x2": {"value": {"expr": "abs(datum.value*5-round(datum.value*5)) < 0.001 ? -6 : -3"}}}}}}}},
            {"data": {"values": [{"label": "DZ"}]},
             "mark": {"type": "text", "align": "right", "baseline": "middle", "font": "DejaVu Serif", "fontSize": 11, "fontWeight": "bold", "color": "black"},
             "encoding": {"x": {"datum": 5693, "type": "quantitative", "axis": null}, "y": {"datum": 0.1, "type": "quantitative", "axis": null}, "text": {"field": "label"}}}
          ],
          "resolve": {"axis": {"x": "independent", "y": "independent"}}
        },
        {
          "width": 316, "height": 197,
          "title": {"text": "WDJ123557.93+323210.28_2022-04-03_06:35:37.491936+00.dat"},
          "layer": [
            {"data": {"name": "spec3"},
             "mark": {"type": "line", "color": "black", "strokeWidth": 1.2},
             "encoding": {
               "x": {"field": "w", "type": "quantitative", "scale": {"domain": [3790, 7305], "nice": false, "zero": false}, "axis": {"orient": "bottom", "values": [3800,4000,4200,4400,4600,4800,5000,5200,5400,5600,5800,6000,6200,6400,6600,6800,7000,7200], "format": "d", "labelExpr": "datum.value % 1000 === 0 ? datum.label : ''", "labelPadding": 2, "title": "Wavelength (Å)", "titleFontSize": 10.5, "titlePadding": 6, "encode": {"ticks": {"y2": {"value": {"expr": "datum.value % 1000 === 0 ? -6 : -3"}}}}}},
               "y": {"field": "f", "type": "quantitative", "scale": {"domain": [0, 1.05], "nice": false, "zero": false}, "axis": {"orient": "left", "values": [0,0.05,0.1,0.15,0.2,0.25,0.3,0.35,0.4,0.45,0.5,0.55,0.6,0.65,0.7,0.75,0.8,0.85,0.9,0.95,1], "format": ".1f", "labelExpr": "abs(datum.value*5-round(datum.value*5)) < 0.001 ? datum.label : ''", "title": "Relative Flux (fν)", "titleFontSize": 11, "titlePadding": 6, "encode": {"ticks": {"x2": {"value": {"expr": "abs(datum.value*5-round(datum.value*5)) < 0.001 ? 6 : 3"}}}}}}}},
            {"data": {"name": "fit3"},
             "mark": {"type": "line", "color": "#ff0000", "strokeWidth": 1.2},
             "encoding": {
               "x": {"field": "w", "type": "quantitative", "axis": {"orient": "top", "values": [3800,4000,4200,4400,4600,4800,5000,5200,5400,5600,5800,6000,6200,6400,6600,6800,7000,7200], "labels": false, "title": null, "encode": {"ticks": {"y2": {"value": {"expr": "datum.value % 1000 === 0 ? 6 : 3"}}}}}},
               "y": {"field": "f", "type": "quantitative", "axis": {"orient": "right", "values": [0,0.05,0.1,0.15,0.2,0.25,0.3,0.35,0.4,0.45,0.5,0.55,0.6,0.65,0.7,0.75,0.8,0.85,0.9,0.95,1], "labels": false, "title": null, "encode": {"ticks": {"x2": {"value": {"expr": "abs(datum.value*5-round(datum.value*5)) < 0.001 ? -6 : -3"}}}}}}}},
            {"data": {"values": [{"label": "DZ"}]},
             "mark": {"type": "text", "align": "right", "baseline": "middle", "font": "DejaVu Serif", "fontSize": 11, "fontWeight": "bold", "color": "black"},
             "encoding": {"x": {"datum": 7120, "type": "quantitative", "axis": null}, "y": {"datum": 0.1, "type": "quantitative", "axis": null}, "text": {"field": "label"}}}
          ],
          "resolve": {"axis": {"x": "independent", "y": "independent"}}
        }
      ]
    }
  ]
}
